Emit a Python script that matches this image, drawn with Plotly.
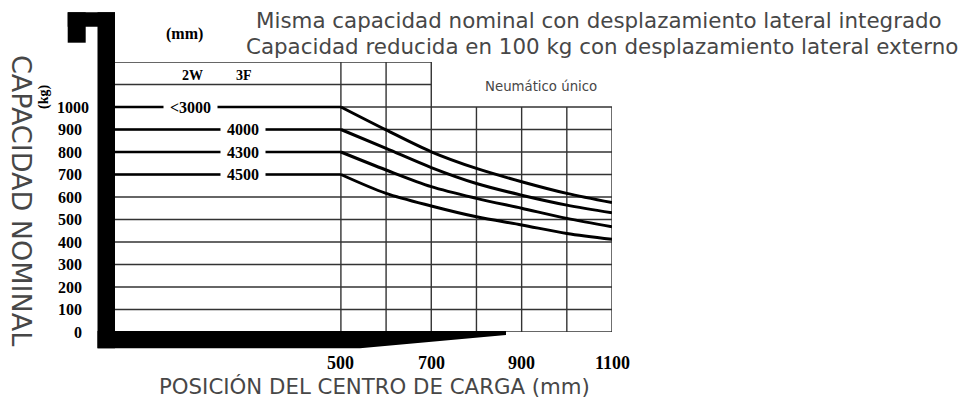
import plotly.graph_objects as go

# ---------------- data ----------------
load_center_mm = [0, 500, 600, 700, 800, 900, 1000, 1100]
series_names = ["<3000", "4000", "4300", "4500"]
cap_3000 = [1000, 1000, 898, 801, 727, 668, 616, 575]
cap_4000 = [900, 900, 816, 731, 660, 608, 564, 530]
cap_4300 = [800, 800, 720, 646, 594, 550, 505, 468]
cap_4500 = [700, 700, 616, 560, 512, 476, 438, 412]
series_values = [cap_3000, cap_4000, cap_4300, cap_4500]
series_label_x = [168, 284, 284, 284]

y_ticks = [0, 100, 200, 300, 400, 500, 600, 700, 800, 900, 1000]
x_tick_labels = [500, 700, 900, 1100]
x_grid_full = [500, 600, 700]
x_grid_low = [800, 900, 1000, 1100]
header_rows = [1100, 1200]

# ---------------- geometry helpers ----------------
W, H = 979, 403
L, R, T, B = 115, 367, 62, 71
PW, PH = W - L - R, H - T - B


def px(x):
    return (x - L) / PW


def py(y):
    return (H - B - y) / PH


COND = "Liberation Serif, DejaVu Serif, serif"
GOTH = "DejaVu Sans, Verdana, sans-serif"
GREY = "#474747"

fig = go.Figure()

# series curves
for vals in series_values:
    fig.add_trace(go.Scatter(x=load_center_mm[:2], y=vals[:2], mode="lines",
                             line=dict(color="black", width=2.6), hoverinfo="skip",
                             showlegend=False))
    fig.add_trace(go.Scatter(x=load_center_mm[1:], y=vals[1:], mode="lines",
                             line=dict(color="black", width=3, shape="spline", smoothing=0.9),
                             hoverinfo="skip", showlegend=False))

shapes = []
gl = dict(color="#333333", width=1.4)
# horizontal grid
for yv in y_ticks:
    shapes.append(dict(type="line", xref="x", yref="y", x0=0, x1=1100, y0=yv, y1=yv,
                       line=gl, layer="below"))
for yv in header_rows:
    shapes.append(dict(type="line", xref="x", yref="y", x0=0, x1=700, y0=yv, y1=yv,
                       line=gl, layer="below"))
for xv in x_grid_full:
    shapes.append(dict(type="line", xref="x", yref="y", x0=xv, x1=xv, y0=0, y1=1200,
                       line=gl, layer="below"))
for xv in x_grid_low:
    shapes.append(dict(type="line", xref="x", yref="y", x0=xv, x1=xv, y0=0, y1=1000,
                       line=gl, layer="below"))

# thick frame (decoration)
def rect(x0, y0, x1, y1):
    return dict(type="rect", xref="paper", yref="paper", x0=px(x0), x1=px(x1),
                y0=py(y1), y1=py(y0), fillcolor="black", line=dict(width=0), layer="above")

shapes.append(rect(97.5, 12.3, 115, 348.3))
shapes.append(rect(67.7, 12.3, 115, 26.7))
shapes.append(rect(67.7, 12.3, 85.7, 42.7))
pts = [(97.5, 331), (506, 331), (506, 335), (360, 348.3), (97.5, 348.3)]
path = "M " + " L ".join(f"{px(a):.5f},{py(b):.5f}" for a, b in pts) + " Z"
shapes.append(dict(type="path", xref="paper", yref="paper", path=path,
                   fillcolor="black", line=dict(width=0), layer="above"))

ann = []
# y tick labels
for yv in y_ticks:
    s = str(yv)
    xr = 91 if len(s) == 4 else 84
    ann.append(dict(text=f"<b>{s}</b>", xref="paper", yref="y", x=px(xr), y=yv,
                    xanchor="right", yanchor="middle", showarrow=False,
                    font=dict(family=COND, size=16, color="black")))
# x tick labels
for xv in x_tick_labels:
    ann.append(dict(text=f"<b>{xv}</b>", xref="x", yref="paper", x=xv, y=py(363),
                    xanchor="center", yanchor="middle", showarrow=False,
                    font=dict(family=COND, size=18, color="black")))
# series labels
for name, vals, lx in zip(series_names, series_values, series_label_x):
    ann.append(dict(text=f"<b>\u00a0{name}\u00a0</b>", xref="x", yref="y", x=lx, y=vals[0],
                    xanchor="center", yanchor="middle", showarrow=False, bgcolor="white",
                    borderpad=2, font=dict(family=COND, size=16, color="black")))


def txt(t, x, y, size, family, color="black", angle=0):
    ann.append(dict(text=t, xref="paper", yref="paper", x=px(x), y=py(y), xanchor="center",
                    yanchor="middle", showarrow=False, textangle=angle,
                    font=dict(family=family, size=size, color=color)))


txt("<b>(mm)</b>", 184, 34, 16, COND)
txt("<b>2W</b>", 192, 75, 14, COND)
txt("<b>3F</b>", 244, 75, 14, COND)
txt("<b>(kg)</b>", 43.5, 97.5, 14, COND, angle=-90)
txt("CAPACIDAD NOMINAL", 22, 200, 27, GOTH, GREY, angle=90)
txt("Misma capacidad nominal con desplazamiento lateral integrado", 599, 20, 21.4, GOTH, GREY)
txt("Capacidad reducida en 100 kg con desplazamiento lateral externo", 602, 47, 21.4, GOTH, GREY)
txt("Neumático único", 541, 86, 13.3, GOTH, GREY)
txt("POSICIÓN DEL CENTRO DE CARGA (mm)", 374, 386, 21.3, GOTH, GREY)

fig.update_layout(
    width=W, height=H, autosize=False,
    margin=dict(l=L, r=R, t=T, b=B, pad=0),
    paper_bgcolor="white", plot_bgcolor="white",
    xaxis=dict(range=[0, 1100], visible=False, fixedrange=True),
    yaxis=dict(range=[0, 1200], visible=False, fixedrange=True),
    shapes=shapes, annotations=ann, showlegend=False,
)

fig.write_html("out.html", config={"displayModeBar": False},
               post_script="document.body.style.margin='0';document.body.style.overflow='hidden';")
